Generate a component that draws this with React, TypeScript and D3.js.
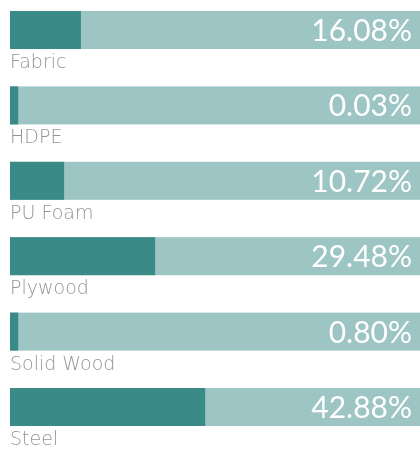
import React from "react";
import * as d3 from "d3";

const categories = ["Fabric", "HDPE", "PU Foam", "Plywood", "Solid Wood", "Steel"];
const valueLabels = ["16.08%", "0.03%", "10.72%", "29.48%", "0.80%", "42.88%"];
// bar fill shares (percent of full track)
const barShares = [17.3, 2.0, 13.2, 35.4, 2.0, 47.6];

const W = 420;
const H = 450;

export default function App() {
  const left = 10;
  const right = 420;
  const x = d3.scaleLinear().domain([0, 100]).range([0, right - left]);
  const y = d3.scaleBand<string>().domain(categories).range([11, 11 + 75.4 * 6]).paddingInner(0).paddingOuter(0);
  const barH = 38;
  return (
    <div style={{ position: "fixed", left: 0, top: 0 }}>
      <svg width={W} height={H} style={{ display: "block" }}>
        {categories.map((c, i) => {
          const y0 = y(c)!;
          return (
            <g key={c}>
              <rect x={left} y={y0} width={right - left} height={barH} fill="#9dc5c3" />
              <rect x={left} y={y0} width={x(barShares[i])} height={barH} fill="#3a8a87" />
              <text
                x={412}
                y={y0 + 30}
                textAnchor="end"
                fill="#ffffff"
                fontFamily="Lato, 'Open Sans', sans-serif"
                fontSize={30}
              >
                {valueLabels[i]}
              </text>
              <text
                x={10}
                y={y0 + barH + 19}
                fill="#959595"
                fontFamily="'DejaVu Sans', sans-serif"
                fontWeight={200}
                fontSize={19}
              >
                {c}
              </text>
            </g>
          );
        })}
      </svg>
    </div>
  );
}
